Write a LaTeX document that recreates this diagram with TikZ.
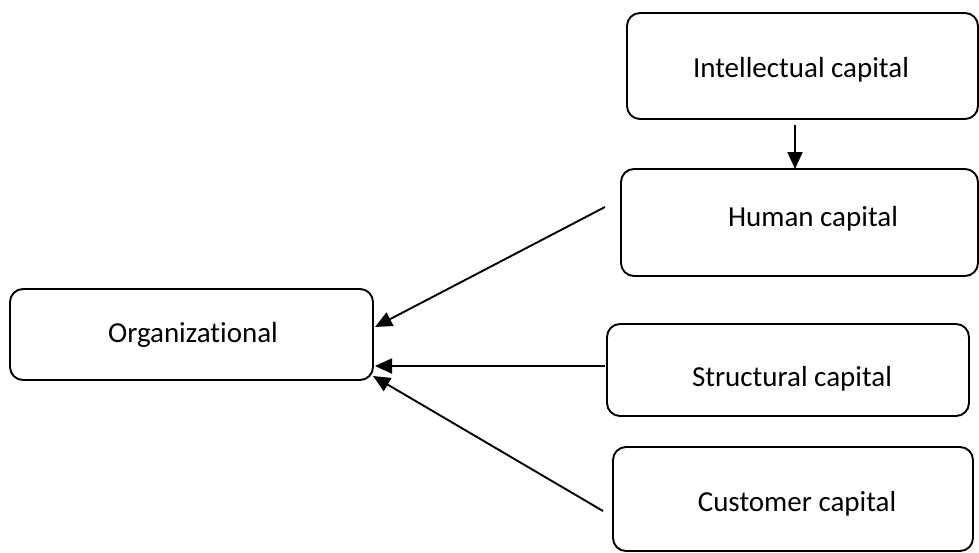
\documentclass[tikz,border=0pt]{standalone}
\usepackage{fontspec}
\setmainfont[Ligatures=NoCommon]{Carlito}
\usetikzlibrary{arrows.meta,calc}

\begin{document}
\begin{tikzpicture}[x=1pt,y=-1pt,line width=1.9pt,font=\fontsize{29}{34}\selectfont]
\tikzset{box/.style={draw,rounded corners=13pt,inner sep=0pt,outer sep=0pt},
  txt/.style={anchor=base,inner sep=0pt},
  arr/.style={-{Triangle[length=17pt,width=15pt]}}}
\newcommand\capbox[8]{% name, centre, size, text position
  \node[box,minimum width=#4pt,minimum height=#5pt] (#1) at (#2,#3) {};
  \node[txt] (#1-t) at (#6,#7) {#8};
}
\useasboundingbox (0,0) rectangle (979,552);
\capbox{intel}{802.5}{66}{351}{106}{801}{77}{Intellectual capital}
\capbox{human}{799.5}{222.5}{357}{107}{813}{226}{Human capital}
\capbox{org}{191.5}{334.5}{363}{91}{193}{342}{Organizational}
\capbox{struct}{788}{370}{362}{92}{792}{386}{Structural capital}
\capbox{cust}{793}{499}{360}{104}{797}{511}{Customer capital}

% loose ends of the connectors
\coordinate (int-out) at (795,125);
\coordinate (hum-out) at (605,207);
\coordinate (str-out) at (605,366);
\coordinate (cus-out) at (603,511);

\draw[arr] (int-out) -- (int-out |- human.north);
\draw[arr] (hum-out) -- ($(org.east)+(2,-7.5)$);
\draw[arr] (str-out) -- ($(org.east)+(2,31.5)$);
\draw[arr] (cus-out) -- ($(org.east)+(0,41.5)$);
\end{tikzpicture}
\end{document}
